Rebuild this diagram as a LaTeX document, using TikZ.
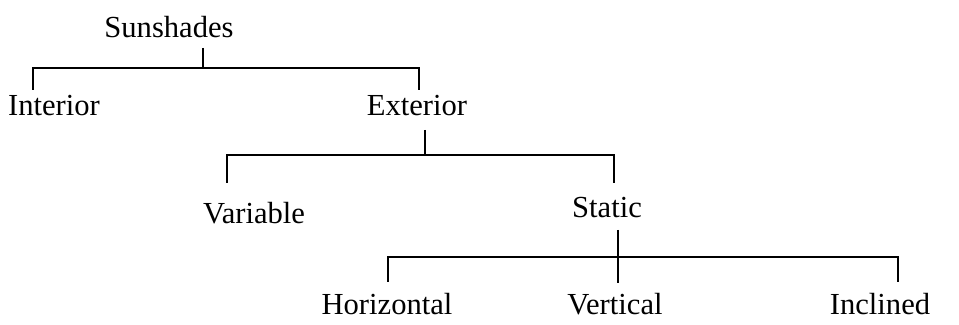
\documentclass[tikz,border=0pt]{standalone}
\usepackage{fontspec}
\setmainfont{Liberation Serif}
\begin{document}
\begin{tikzpicture}
[x=0.5pt,y=-0.5pt,line width=1.1pt,
 lbl/.style={anchor=base,inner sep=0pt,font=\fontsize{15.3}{18}\selectfont}]
  \useasboundingbox (0,0) rectangle (959,325);

  \node[lbl] (sun) at (169,38) {Sunshades};
  \node[lbl] (int) at (54,116) {Interior};
  \node[lbl] (ext) at (417,116) {Exterior};
  \node[lbl] (var) at (254,224) {Variable};
  \node[lbl] (sta) at (607,218) {Static};
  \node[lbl] (hor) at (387,315) {Horizontal};
  \node[lbl] (ver) at (615,315) {Vertical};
  \node[lbl] (inc) at (880,315) {Inclined};

  % junction points
  \coordinate (sunS) at (203,48);  \coordinate (sunJ) at (203,68);
  \coordinate (intT) at (33,90);   \coordinate (extT) at (419,90);
  \coordinate (extS) at (425,130); \coordinate (extJ) at (425,155);
  \coordinate (varT) at (227,183); \coordinate (staT) at (614,183);
  \coordinate (staS) at (618,230); \coordinate (staJ) at (618,257);
  \coordinate (horT) at (388,282); \coordinate (verT) at (618,283);
  \coordinate (incT) at (898,282);

  \draw (sunS) -- (sunJ);
  \draw (intT) -- (intT |- sunJ) -- (extT |- sunJ) -- (extT);

  \draw (extS) -- (extJ);
  \draw (varT) -- (varT |- extJ) -- (staT |- extJ) -- (staT);

  \draw (staS) -- (verT);
  \draw (horT) -- (horT |- staJ) -- (incT |- staJ) -- (incT);
\end{tikzpicture}
\end{document}
